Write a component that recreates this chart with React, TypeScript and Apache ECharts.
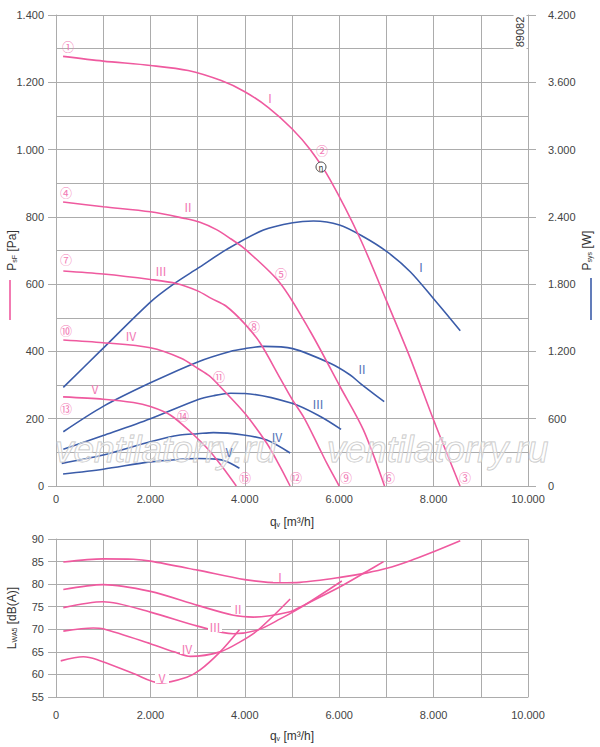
import React, { useEffect, useRef } from 'react';
import * as echarts from 'echarts';

// pressure curves P_sF [Pa] (q in m3/h)
const psI = [[150, 1277], [1000, 1263], [2000, 1250], [2800, 1235], [3500, 1205], [4000, 1172], [4500, 1125], [5000, 1062], [5385, 1000], [5809, 910], [6445, 735], [7010, 548], [7505, 380], [8000, 196], [8560, 0]];
const psII = [[150, 844], [1000, 830], [2000, 815], [2700, 796], [3050, 784], [3400, 762], [3700, 735], [4000, 705], [4750, 603], [5385, 460], [6020, 295], [6515, 166], [6960, 0]];
const psIII = [[155, 639], [1000, 630], [2000, 614], [2550, 602], [3000, 580], [3300, 557], [3600, 535], [4000, 482], [4325, 425], [4750, 320], [5000, 258], [5250, 204], [5530, 127], [5740, 67], [6000, 0]];
const psIV = [[155, 434], [1000, 426], [2000, 411], [2650, 380], [3000, 350], [3250, 327], [3500, 292], [4000, 216], [4466, 127], [4750, 57], [4960, 0]];
const psV = [[150, 265], [1000, 258], [1640, 248], [2000, 236], [2420, 211], [2840, 162], [3250, 105], [3550, 52], [3820, 0]];

// power curves P_sys [W]
const pwI = [[155, 880], [930, 1200], [2000, 1640], [2490, 1800], [3000, 1940], [3618, 2110], [4395, 2283], [5017, 2348], [5455, 2363], [6006, 2328], [6515, 2223], [7010, 2090], [7505, 1911], [8000, 1670], [8565, 1385]];
const pwII = [[155, 484], [1000, 710], [2000, 920], [3017, 1109], [3689, 1200], [4007, 1225], [4395, 1245], [5017, 1225], [5809, 1094], [6233, 990], [6445, 916], [6953, 752]];
const pwIII = [[155, 327], [1000, 450], [2000, 600], [3000, 770], [3335, 805], [3700, 827], [4000, 825], [5000, 737], [5600, 620], [6040, 505]];
const pwIV = [[121, 202], [1000, 276], [2000, 395], [2629, 455], [3000, 466], [3335, 476], [3971, 455], [4466, 410], [4961, 294]];
const pwV = [[150, 107], [1000, 150], [2000, 215], [2629, 238], [3000, 245], [3400, 240], [3600, 220], [3886, 158]];

// sound power L_WA5 [dB(A)]
const lwI = [[155, 84.9], [1000, 85.6], [1640, 85.5], [2000, 85.1], [3000, 83.1], [4000, 81.0], [4750, 80.3], [5170, 80.4], [6020, 81.5], [6587, 82.5], [7010, 83.5], [7505, 85.2], [8000, 87.2], [8565, 89.6]];
const lwII = [[155, 78.8], [1000, 79.9], [2000, 78.4], [3000, 75.3], [3759, 73.1], [4183, 72.7], [4961, 73.9], [5243, 75.3], [6000, 79.3], [6600, 82.9], [6940, 85.0]];
const lwIII = [[155, 74.8], [1000, 76.1], [2000, 73.8], [3000, 70.7], [3759, 69.0], [4289, 69.9], [4750, 72.3], [5243, 75.2], [6056, 80.7]];
const lwIV = [[155, 69.6], [790, 70.3], [1000, 70.1], [2000, 66.8], [2500, 65.0], [2850, 64.0], [3477, 65.0], [3900, 67.2], [4289, 69.9], [4961, 76.7]];
const lwV = [[100, 63.0], [579, 63.9], [862, 63.3], [1640, 60.2], [2205, 58.1], [2771, 59.4], [3053, 61.0], [3477, 65.0], [3886, 69.9]];

const speeds = ['Ⅰ', 'Ⅱ', 'Ⅲ', 'Ⅳ', 'Ⅴ'];
const circled = ['①', '②', '③', '④', '⑤', '⑥', '⑦', '⑧', '⑨', '⑩', '⑪', '⑫', '⑬', '⑭', '⑮'];

const PINK = '#ef5a9f';
const PINK_TXT = '#f27ab5';
const BLUE = '#3b5ca9';
const BLUE_TXT = '#5473b8';
const GRID = '#acacac';
const FONT = '"Liberation Sans", Arial, sans-serif';

const fmt = (v: number) =>
    v >= 1000 ? `${Math.floor(v / 1000)}.${String(v % 1000).padStart(3, '0')}` : String(v);

const line = (name: string, data: number[][], color: string, xi: number, yi: number) => ({
    name,
    type: 'line',
    xAxisIndex: xi,
    yAxisIndex: yi,
    data,
    smooth: 0.3,
    showSymbol: false,
    symbol: 'none',
    lineStyle: { color, width: 1.6 },
    itemStyle: { color },
    z: color === PINK ? 4 : 3
});

const txt = (x: number, y: number, text: string, color: string, size = 11, bg?: string) => ({
    type: 'text',
    x,
    y,
    z: 100,
    style: {
        text,
        fill: color,
        font: `${size}px "Noto Sans CJK SC", ${FONT}`,
        align: 'center',
        verticalAlign: 'middle',
        backgroundColor: bg,
        padding: bg ? [0, 1] : 0
    }
});

export default function App() {
    const chartRef = useRef<HTMLDivElement>(null);

    useEffect(() => {
        if (!chartRef.current) return;
        const chart = echarts.init(chartRef.current, undefined, { renderer: 'svg' });

        const axisLabel = { color: '#444', fontSize: 11, fontFamily: FONT, formatter: fmt };
        const split = { show: true, lineStyle: { color: GRID, width: 1 } };
        const nameRich = {
            a: { fontSize: 12, color: '#333', fontFamily: FONT },
            s: { fontSize: 7, color: '#333', fontFamily: FONT, verticalAlign: 'bottom' }
        };

        const xBase = {
            type: 'value',
            min: 0,
            max: 10000,
            interval: 2000,
            axisLine: { show: true, lineStyle: { color: GRID } },
            axisTick: { show: false },
            splitLine: split,
            minorTick: { show: false, splitNumber: 2 },
            minorSplitLine: { show: true, lineStyle: { color: GRID, width: 1 } },
            nameLocation: 'middle',
            nameMoveOverlap: false,
            name: '{a|q}{s|v}{a| [m³/h]}',
            nameTextStyle: { rich: nameRich }
        };

        const labelsTop: any[] = [
            [68, 46], [322, 150], [465, 477], [66, 192], [281, 273], [389, 477], [66, 259], [254, 326],
            [346, 477], [66, 330], [219, 376], [296, 477], [66, 408], [183, 415], [245, 477]
        ].map((p, i) => txt(p[0], p[1], circled[i], PINK_TXT, 12));

        const romanPinkTop = [[270, 97], [188, 206], [161, 270], [131, 335], [95, 388]];
        const romanBlueTop = [[421, 266], [362, 368], [318, 403], [277, 436], [229, 451]];
        const romanBottom = [[280, 576], [238, 608], [215, 626], [187, 648], [162, 677]];

        const option = {
            animation: false,
            grid: [
                { left: 56, top: 15, width: 472, height: 471, containLabel: false, outerBoundsMode: 'none' },
                { left: 56, top: 539, width: 472, height: 158, containLabel: false, outerBoundsMode: 'none' }
            ],
            xAxis: [
                { ...xBase, gridIndex: 0, nameGap: 30, axisLabel: { ...axisLabel, margin: 7 } },
                { ...xBase, gridIndex: 1, nameGap: 33, axisLabel: { ...axisLabel, margin: 12 } }
            ],
            yAxis: [
                {
                    type: 'value',
                    gridIndex: 0,
                    min: 0,
                    max: 1400,
                    interval: 200,
                    axisLine: { show: true, lineStyle: { color: GRID } },
                    axisTick: { show: true, length: 8, lineStyle: { color: GRID } },
                    axisLabel: { ...axisLabel, margin: 12 },
                    splitLine: split,
                    minorTick: { show: false, splitNumber: 2 },
                    minorSplitLine: { show: true, lineStyle: { color: GRID, width: 1 } },
                    name: '{a|P}{s|sF}{a| [Pa]}',
                    nameLocation: 'middle',
                    nameMoveOverlap: false,
                    nameRotate: 90,
                    nameGap: 38,
                    nameTextStyle: { rich: nameRich }
                },
                {
                    type: 'value',
                    gridIndex: 0,
                    position: 'right',
                    min: 0,
                    max: 4200,
                    interval: 600,
                    axisLine: { show: true, lineStyle: { color: GRID } },
                    axisTick: { show: true, length: 8, lineStyle: { color: GRID } },
                    axisLabel: { ...axisLabel, margin: 20 },
                    splitLine: { show: false },
                    name: '{a|P}{s|sys}{a| [W]}',
                    nameLocation: 'middle',
                    nameMoveOverlap: false,
                    nameRotate: 90,
                    nameGap: 53,
                    nameTextStyle: { rich: nameRich }
                },
                {
                    type: 'value',
                    gridIndex: 1,
                    min: 55,
                    max: 90,
                    interval: 5,
                    axisLine: { show: true, lineStyle: { color: GRID } },
                    axisTick: { show: true, length: 8, lineStyle: { color: GRID } },
                    axisLabel: { ...axisLabel, margin: 12 },
                    splitLine: split,
                    name: '{a|L}{s|WA5}{a| [dB(A)]}',
                    nameLocation: 'middle',
                    nameMoveOverlap: false,
                    nameRotate: 90,
                    nameGap: 38,
                    nameTextStyle: { rich: nameRich }
                }
            ],
            series: [
                line('Psys I', pwI, BLUE, 0, 1),
                line('Psys II', pwII, BLUE, 0, 1),
                line('Psys III', pwIII, BLUE, 0, 1),
                line('Psys IV', pwIV, BLUE, 0, 1),
                line('Psys V', pwV, BLUE, 0, 1),
                line('PsF I', psI, PINK, 0, 0),
                line('PsF II', psII, PINK, 0, 0),
                line('PsF III', psIII, PINK, 0, 0),
                line('PsF IV', psIV, PINK, 0, 0),
                line('PsF V', psV, PINK, 0, 0),
                line('LWA5 I', lwI, PINK, 1, 2),
                line('LWA5 II', lwII, PINK, 1, 2),
                line('LWA5 III', lwIII, PINK, 1, 2),
                line('LWA5 IV', lwIV, PINK, 1, 2),
                line('LWA5 V', lwV, PINK, 1, 2)
            ],
            graphic: [
                // watermarks
                ...[55, 327].map(x => ({
                    type: 'text',
                    x,
                    y: 449,
                    z: 90,
                    style: {
                        text: 'ventilatorry.ru',
                        font: `italic 37px ${FONT}`,
                        fill: 'rgba(255,255,255,0.4)',
                        stroke: '#c4c4c4',
                        lineWidth: 1,
                        verticalAlign: 'middle'
                    }
                })),
                // legend strokes next to axis names
                { type: 'line', shape: { x1: 10, y1: 280, x2: 10, y2: 320 }, style: { stroke: PINK, lineWidth: 1.6 } },
                { type: 'line', shape: { x1: 591, y1: 278, x2: 591, y2: 320 }, style: { stroke: BLUE, lineWidth: 1.6 } },
                {
                    type: 'text',
                    x: 520,
                    y: 32,
                    rotation: Math.PI / 2,
                    z: 100,
                    style: {
                        text: '89082',
                        fill: '#333',
                        font: `11px ${FONT}`,
                        align: 'center',
                        verticalAlign: 'middle',
                        backgroundColor: '#fff',
                        padding: [1, 2]
                    }
                },
                { type: 'circle', z: 100, shape: { cx: 321, cy: 167, r: 5 }, style: { fill: '#fff', stroke: '#333', lineWidth: 0.9 } },
                txt(321, 167, 'η', '#333', 8),
                ...labelsTop,
                ...romanPinkTop.map((p, i) => txt(p[0], p[1], speeds[i], PINK_TXT, 12)),
                ...romanBlueTop.map((p, i) => txt(p[0], p[1], speeds[i], BLUE_TXT, 12)),
                ...romanBottom.map((p, i) => txt(p[0], p[1], speeds[i], PINK_TXT, 12, '#fff'))
            ]
        };

        chart.setOption(option as any);

        return () => {
            chart.dispose();
        };
    }, []);

    return <div ref={chartRef} style={{ position: 'fixed', left: 0, top: 0, width: 600, height: 747, background: '#fff' }} />;
}
